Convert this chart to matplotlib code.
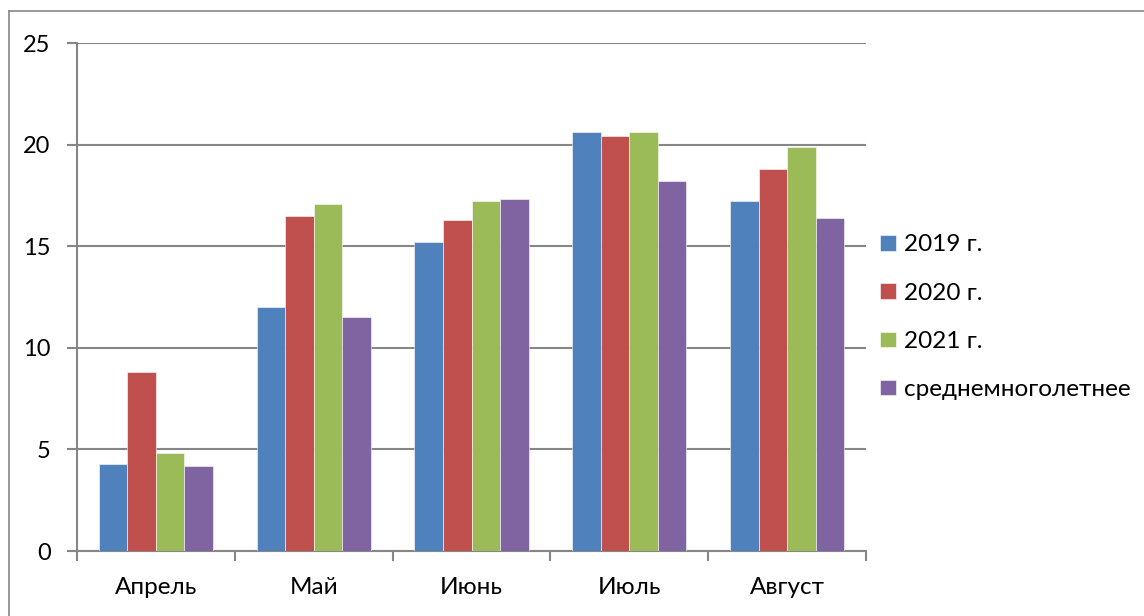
import matplotlib.pyplot as plt
import numpy as np
from matplotlib.lines import Line2D

plt.rcParams['font.family'] = ['Lato', 'DejaVu Sans']

months = ["Апрель", "Май", "Июнь", "Июль", "Август"]
series_names = ["2019 г.", "2020 г.", "2021 г.", "среднемноголетнее"]
v2019 = [4.3, 12.0, 15.2, 20.6, 17.2]
v2020 = [8.8, 16.5, 16.3, 20.4, 18.8]
v2021 = [4.8, 17.1, 17.2, 20.6, 19.9]
v_mean = [4.2, 11.5, 17.3, 18.2, 16.4]
y_ticks = [0, 5, 10, 15, 20, 25]

colours = ["#4f81bd", "#c0504d", "#9bbb59", "#8064a2"]
grid_col = "#868686"

fig = plt.figure(figsize=(11.44, 6.16), dpi=100)
ax = fig.add_axes([77 / 1144, 1 - 551 / 616, 789 / 1144, 508 / 616])

# chart frame: only top and left edges fall inside the image
fig.lines.append(Line2D([8.5 / 1144, 1], [1 - 10.5 / 616, 1 - 10.5 / 616],
                        transform=fig.transFigure, color=grid_col, linewidth=1.2))
fig.lines.append(Line2D([8.5 / 1144, 8.5 / 1144], [0, 1 - 10.5 / 616],
                        transform=fig.transFigure, color=grid_col, linewidth=1.2))

x = np.arange(len(months))
w = 0.181
for i, (vals, name) in enumerate(zip([v2019, v2020, v2021, v_mean], series_names)):
    ax.bar(x + (i - 1.5) * w, vals, width=w, color=colours[i], label=name,
           edgecolor="white", linewidth=0.4, zorder=3)

ax.set_xlim(-0.5, len(months) - 0.5)
ax.set_ylim(0, 25)
ax.set_yticks(y_ticks)
ax.set_xticks(x)
ax.set_xticklabels(months, fontsize=17.5)
ax.tick_params(axis='x', length=0, pad=19)
ax.set_xticks(np.arange(len(months) + 1) - 0.5, minor=True)
ax.tick_params(axis='x', which='minor', length=7, width=1.5, color=grid_col)
ax.tick_params(axis='y', labelsize=17, length=7, width=1.5, color=grid_col, pad=12)
ax.yaxis.grid(True, color=grid_col, linewidth=1.5, zorder=0)

for side in ['top', 'right']:
    ax.spines[side].set_visible(False)
for side in ['left', 'bottom']:
    ax.spines[side].set_color(grid_col)
    ax.spines[side].set_linewidth(1.5)

ax.legend(loc='center left', bbox_to_anchor=(1.006, 0.46), frameon=False,
          fontsize=17.5, handlelength=0.62, handleheight=0.62, handletextpad=0.35,
          labelspacing=1.12, borderaxespad=0.0)

fig.savefig("out.png", dpi=100)
